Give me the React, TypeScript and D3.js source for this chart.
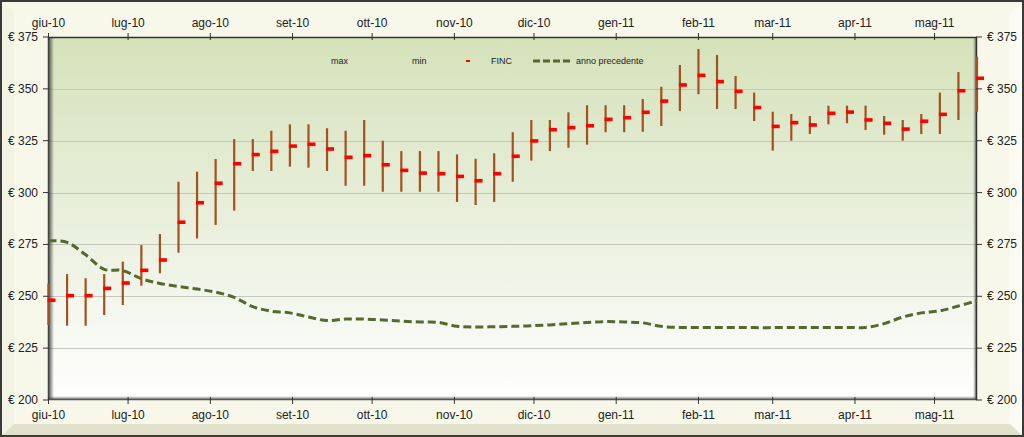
import React from "react";
import * as d3 from "d3";

// ---- data ----
const startDate = new Date(2010, 5, 1);
const weeks = d3.range(51).map((k) => d3.timeDay.offset(startDate, 7 * k));

const maxValues = [
  256.1, 260.7, 258.7, 260.7, 266.7, 274.7, 280.0, 305.2, 310.1, 316.2,
  325.8, 325.8, 329.8, 332.9, 332.9, 331.0, 329.8, 335.0, 325.0, 320.0,
  320.0, 320.0, 318.4, 316.3, 318.9, 329.1, 335.0, 335.0, 338.7, 342.1,
  342.1, 342.1, 345.1, 351.0, 361.5, 369.2, 366.3, 356.2, 348.2, 339.0,
  337.9, 336.9, 341.9, 341.9, 341.9, 336.9, 335.0, 337.9, 348.2, 358.1,
  365.5,
];
const minValues = [
  236.2, 235.8, 235.8, 241.0, 245.8, 255.1, 261.1, 271.0, 277.9, 284.4,
  291.3, 310.4, 310.4, 312.5, 312.0, 310.4, 303.3, 303.3, 300.4, 300.4,
  300.4, 300.4, 295.5, 294.0, 295.5, 305.2, 315.4, 320.0, 321.6, 323.1,
  329.1, 329.1, 329.3, 332.1, 339.3, 347.4, 340.3, 340.3, 334.5, 320.2,
  325.0, 328.2, 332.9, 333.4, 330.2, 327.9, 325.0, 328.2, 328.2, 335.0,
  339.0,
];
const fincValues = [
  248.1, 250.3, 250.3, 253.8, 256.4, 262.5, 267.5, 285.7, 295.1, 304.5,
  313.9, 318.3, 319.9, 322.4, 323.3, 321.0, 317.0, 317.8, 313.4, 310.7,
  309.4, 309.1, 307.8, 305.7, 309.1, 317.5, 324.9, 330.3, 331.3, 332.2,
  335.3, 336.1, 338.7, 344.1, 351.9, 356.5, 353.5, 348.8, 341.0, 331.9,
  333.7, 332.6, 338.2, 338.8, 335.0, 333.4, 330.6, 334.4, 337.7, 349.1,
  355.1,
];
const prevYear = [
  276.8, 276.0, 270.0, 263.0, 262.4, 258.5, 256.2, 254.7, 253.5, 252.0,
  249.5, 245.0, 242.8, 242.0, 240.0, 238.3, 239.0, 239.0, 238.6, 238.0,
  237.6, 237.4, 235.5, 235.2, 235.3, 235.5, 235.8, 236.2, 236.8, 237.4,
  237.8, 237.6, 237.2, 235.5, 235.0, 235.0, 235.0, 235.0, 234.9, 234.9,
  235.0, 235.0, 235.0, 235.0, 235.0, 236.8, 240.0, 242.0, 243.0, 245.3,
  247.9,
];
const monthLabels = [
  "giu-10", "lug-10", "ago-10", "set-10", "ott-10", "nov-10",
  "dic-10", "gen-11", "feb-11", "mar-11", "apr-11", "mag-11",
];
const monthDates = d3.range(12).map((i) => new Date(2010, 5 + i, 1));
const yTicks = [200, 225, 250, 275, 300, 325, 350, 375];
const legendLabels = ["max", "min", "FINC", "anno precedente"];

// ---- layout ----
const W = 1024;
const H = 437;
const L = 48;
const R = 977;
const T = 37;
const B = 400;
const FONT = "'Liberation Sans', Arial, sans-serif";

export default function App() {
  React.useEffect(() => {
    document.body.style.margin = "0";
  }, []);

  const x = d3
    .scaleTime()
    .domain([startDate, new Date(2011, 4, 17)])
    .range([L + 0.5, R]);
  const y = d3.scaleLinear().domain([200, 375]).range([B, T]);

  const line = d3
    .line<number>()
    .x((_, i) => x(weeks[i]))
    .y((d) => y(d))
    .curve(d3.curveCatmullRom.alpha(0.5));

  return (
    <svg
      width={W}
      height={H}
      style={{ display: "block", position: "absolute", left: 0, top: 0 }}
      fontFamily={FONT}
    >
      <defs>
        <linearGradient id="plotBg" x1="0" y1="0" x2="0" y2="1">
          <stop offset="0" stopColor="#d5e2ba" />
          <stop offset="0.5" stopColor="#e9efdc" />
          <stop offset="1" stopColor="#ffffff" />
        </linearGradient>
        <linearGradient id="leftShadow" x1="0" y1="0" x2="1" y2="0">
          <stop offset="0" stopColor="#3a3a3a" stopOpacity="0.95" />
          <stop offset="1" stopColor="#3a3a3a" stopOpacity="0" />
        </linearGradient>
        <linearGradient id="bottomShadow" x1="0" y1="1" x2="0" y2="0">
          <stop offset="0" stopColor="#3a3a3a" stopOpacity="0.8" />
          <stop offset="1" stopColor="#3a3a3a" stopOpacity="0" />
        </linearGradient>
        <linearGradient id="rightShadow" x1="1" y1="0" x2="0" y2="0">
          <stop offset="0" stopColor="#3a3a3a" stopOpacity="0.8" />
          <stop offset="1" stopColor="#3a3a3a" stopOpacity="0" />
        </linearGradient>
      </defs>

      {/* outer frame with bevel */}
      <rect x={0} y={0} width={W} height={H} fill="#3a3a3a" />
      <rect x={2} y={2} width={W - 4} height={H - 4} fill="#f7f7ea" />
      <polygon
        points={`2,${H - 2} 14,${H - 13} ${W - 14},${H - 13} ${W - 2},${H - 2}`}
        fill="#e2e2cc"
      />
      <polygon
        points={`${W - 2},2 ${W - 14},13 ${W - 14},${H - 13} ${W - 2},${H - 2}`}
        fill="#fbfbf4"
      />
      <polygon
        points={`2,2 14,13 14,${H - 13} 2,${H - 2}`}
        fill="#f3f3e3"
      />

      {/* plot area */}
      <rect x={L} y={T} width={R - L} height={B - T} fill="url(#plotBg)" />
      {yTicks.slice(1, -1).map((v) => (
        <line
          key={v}
          x1={L}
          x2={R}
          y1={Math.round(y(v)) + 0.5}
          y2={Math.round(y(v)) + 0.5}
          stroke="#c4c8bc"
          strokeWidth={1}
        />
      ))}
      <rect x={L} y={T} width={6} height={B - T} fill="url(#leftShadow)" />
      <rect x={L} y={B - 4} width={R - L} height={4} fill="url(#bottomShadow)" />
      <rect x={R - 4} y={T} width={4} height={B - T} fill="url(#rightShadow)" />
      <line x1={L} x2={R} y1={T + 0.5} y2={T + 0.5} stroke="#333" strokeWidth={1.5} />
      <line x1={L} x2={R} y1={B - 0.5} y2={B - 0.5} stroke="#555" strokeWidth={1.5} />
      <line x1={L + 0.5} x2={L + 0.5} y1={T} y2={B} stroke="#444" strokeWidth={1.5} />
      <line x1={R - 0.5} x2={R - 0.5} y1={T} y2={B} stroke="#333" strokeWidth={1.5} />

      {/* previous year dashed line */}
      <path
        d={line(prevYear) || ""}
        fill="none"
        stroke="#55692f"
        strokeWidth={3}
        strokeDasharray="8,4"
      />

      {/* high-low bars */}
      {weeks.map((d, i) => (
        <line
          key={"hl" + i}
          x1={x(d)}
          x2={x(d)}
          y1={y(maxValues[i])}
          y2={y(minValues[i])}
          stroke="#a2521f"
          strokeWidth={2.2}
        />
      ))}
      {/* close ticks */}
      {weeks.map((d, i) => (
        <rect
          key={"c" + i}
          x={x(d) - 1}
          y={y(fincValues[i]) - 1.8}
          width={8}
          height={3.6}
          fill="#ff0000"
        />
      ))}

      {/* axes ticks and labels */}
      {monthDates.map((d, i) => (
        <g key={"m" + i}>
          <line x1={x(d)} x2={x(d)} y1={T - 4} y2={T + 3} stroke="#333" />
          <line x1={x(d)} x2={x(d)} y1={B - 3} y2={B + 4} stroke="#333" />
          <text x={x(d)} y={T - 10} fontSize={12} textAnchor="middle" fill="#222">
            {monthLabels[i]}
          </text>
          <text x={x(d)} y={B + 19} fontSize={12} textAnchor="middle" fill="#222">
            {monthLabels[i]}
          </text>
        </g>
      ))}
      {yTicks.map((v) => (
        <g key={"y" + v}>
          <line x1={L - 5} x2={L + 1} y1={y(v)} y2={y(v)} stroke="#333" />
          <line x1={R - 1} x2={R + 5} y1={y(v)} y2={y(v)} stroke="#333" />
          <text
            x={38}
            y={y(v) + 4}
            fontSize={12}
            textAnchor="end"
            fill="#222"
          >
            {"€ " + v}
          </text>
          <text x={987} y={y(v) + 4} fontSize={12} textAnchor="start" fill="#222">
            {"€ " + v}
          </text>
        </g>
      ))}

      {/* legend */}
      <g fontSize={9} fill="#222">
        <text x={331} y={64}>{legendLabels[0]}</text>
        <text x={412} y={64}>{legendLabels[1]}</text>
        <rect x={466} y={60} width={4} height={2} fill="#ff0000" />
        <text x={491} y={64}>{legendLabels[2]}</text>
        <line
          x1={533}
          x2={573}
          y1={61}
          y2={61}
          stroke="#55692f"
          strokeWidth={3}
          strokeDasharray="7,3"
        />
        <text x={576} y={64}>{legendLabels[3]}</text>
      </g>
    </svg>
  );
}
